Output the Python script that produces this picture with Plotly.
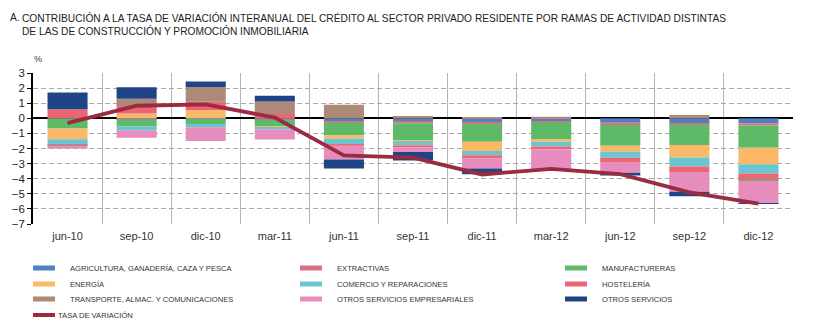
import plotly.graph_objects as go

# Quarterly periods on the category axis
periods = ["jun-10", "sep-10", "dic-10", "mar-11", "jun-11", "sep-11",
           "dic-11", "mar-12", "jun-12", "sep-12", "dic-12"]

# Contributions by branch of activity (percentage points)
agricultura = [0.00, -0.05, -0.05, -0.05, -0.22, -0.20, -0.27, -0.22, -0.29, -0.33, -0.33]
extractivas = [0.00, -0.05, 0.00, -0.05, -0.07, -0.12, -0.10, -0.05, -0.15, -0.10, -0.15]
manufactureras = [-0.67, -0.45, -0.32, -0.42, -0.85, -1.13, -1.18, -1.16, -1.38, -1.33, -1.47]
energia = [-0.71, 0.31, 0.53, -0.06, -0.22, -0.07, -0.62, -0.13, -0.40, -0.84, -1.09]
comercio = [-0.36, -0.24, -0.22, -0.15, -0.35, -0.27, -0.27, -0.31, -0.40, -0.60, -0.62]
hosteleria = [0.60, 0.51, 0.56, 0.29, -0.07, -0.15, -0.20, -0.18, -0.27, -0.36, -0.29]
transporte = [-0.08, 0.47, 0.96, 0.82, 0.89, 0.15, 0.05, 0.10, 0.00, 0.22, -0.20]
serv_empresariales = [-0.18, -0.50, -0.92, -0.68, -0.95, -0.30, -0.69, -1.30, -0.71, -1.31, -1.47]
otros_servicios = [1.11, 0.76, 0.38, 0.38, -0.60, -0.55, -0.38, 0.00, -0.18, -0.29, -0.05]

# Year-on-year rate of change (%)
tasa_variacion = [-0.32, 0.83, 0.92, 0.05, -2.45, -2.60, -3.72, -3.35, -3.70, -4.90, -5.65]

y_ticks = [3, 2, 1, 0, -1, -2, -3, -4, -5, -6, -7]

series = [
    ("AGRICULTURA, GANADERÍA, CAZA Y PESCA", agricultura, "#4f80c1"),
    ("EXTRACTIVAS", extractivas, "#d8727e"),
    ("MANUFACTURERAS", manufactureras, "#5fba68"),
    ("ENERGÍA", energia, "#fbb866"),
    ("COMERCIO Y REPARACIONES", comercio, "#69c6d1"),
    ("HOSTELERÍA", hosteleria, "#ec6572"),
    ("TRANSPORTE, ALMAC. Y COMUNICACIONES", transporte, "#ad8a77"),
    ("OTROS SERVICIOS EMPRESARIALES", serv_empresariales, "#e68dbd"),
    ("OTROS SERVICIOS", otros_servicios, "#1f4586"),
]
line_name = "TASA DE VARIACIÓN"
line_color = "#9b2b40"

FONT = "Liberation Sans, Arial, sans-serif"
W, H = 816, 333
ML, MR, MT, MB = 33, 23, 73, 109
PW, PH = W - ML - MR, H - MT - MB

fig = go.Figure()
for name, vals, color in series:
    fig.add_trace(go.Bar(x=periods, y=vals, name=name, marker_color=color,
                         marker_line_width=0, showlegend=False))
fig.add_trace(go.Scatter(x=periods, y=tasa_variacion, name=line_name, mode="lines",
                         line=dict(color=line_color, width=3.8), showlegend=False))


def px_x(p):
    return (p - ML) / PW


def px_y(p):
    return (H - MB - p) / PH


# Legend: three columns, row-major in stacking order
shapes = []
annotations = []
col_x = [33, 300, 565]
row_y = [268, 284, 299, 315]
entries = [(n, c, "bar") for n, _, c in series] + [(line_name, line_color, "line")]
for i, (name, color, kind) in enumerate(entries):
    r, c = divmod(i, 3)
    x0 = col_x[c]
    yc = row_y[r]
    half = 2.5 if kind == "bar" else 2
    shapes.append(dict(type="rect", xref="paper", yref="paper",
                       x0=px_x(x0), x1=px_x(x0 + 22),
                       y0=px_y(yc + half), y1=px_y(yc - half),
                       fillcolor=color, line_width=0, layer="above"))
    annotations.append(dict(text=name, xref="paper", yref="paper",
                            x=px_x(x0 + 35 if kind == "bar" else x0 + 23),
                            y=px_y(yc), xanchor="left", yanchor="middle",
                            showarrow=False, font=dict(family=FONT, size=7.6, color="#333333")))

# Title and unit
TITLE_SIZE = 10.2
annotations.append(dict(text="A.", xref="paper", yref="paper", x=px_x(8), y=px_y(18),
                        xanchor="left", yanchor="middle", showarrow=False,
                        font=dict(family=FONT, size=TITLE_SIZE, color="#222222")))
annotations.append(dict(text="CONTRIBUCIÓN A LA TASA DE VARIACIÓN INTERANUAL DEL CRÉDITO AL SECTOR PRIVADO RESIDENTE POR RAMAS DE ACTIVIDAD DISTINTAS",
                        xref="paper", yref="paper", x=px_x(20), y=px_y(18),
                        xanchor="left", yanchor="middle", showarrow=False,
                        font=dict(family=FONT, size=TITLE_SIZE, color="#222222")))
annotations.append(dict(text="DE LAS DE CONSTRUCCIÓN Y PROMOCIÓN INMOBILIARIA",
                        xref="paper", yref="paper", x=px_x(20), y=px_y(31),
                        xanchor="left", yanchor="middle", showarrow=False,
                        font=dict(family=FONT, size=TITLE_SIZE, color="#222222")))
annotations.append(dict(text="%", xref="paper", yref="paper", x=px_x(38), y=px_y(59),
                        xanchor="center", yanchor="middle", showarrow=False,
                        font=dict(family=FONT, size=9, color="#333333")))

fig.update_layout(
    width=W, height=H,
    margin=dict(l=ML, r=MR, t=MT, b=MB, pad=0),
    paper_bgcolor="white", plot_bgcolor="white",
    barmode="relative", bargap=0.42,
    showlegend=False,
    shapes=shapes, annotations=annotations,
    xaxis=dict(type="category", tickson="boundaries", showgrid=True,
               gridcolor="#b4b4b4", gridwidth=1, ticks="", showline=False,
               zeroline=False, tickfont=dict(family=FONT, size=11, color="#333333"),
               ticklabelstandoff=4),
    # short black ticks crossing the zero line at the category boundaries
    xaxis2=dict(overlaying="x", anchor="free", position=0.7 + 3 / PH,
                range=[-0.5, len(periods) - 0.5],
                tickvals=[k + 0.5 for k in range(len(periods))],
                ticks="outside", ticklen=6, tickwidth=1.5, tickcolor="black",
                showticklabels=False, showgrid=False, showline=False, zeroline=False),
    yaxis=dict(range=[-7, 3], tickvals=y_ticks, ticks="outside", ticklen=4,
               tickcolor="black", showline=True, linecolor="black", linewidth=1.5,
               showgrid=True, gridcolor="#a8a8a8", gridwidth=1, griddash="5px,3px",
               zeroline=True, zerolinecolor="black", zerolinewidth=1.5,
               tickfont=dict(family=FONT, size=11.5, color="#222222")),
    # grey frame line on the right edge of the plot area
    yaxis2=dict(overlaying="y", side="right", range=[-7, 3], showline=True,
                linecolor="#b4b4b4", linewidth=1, showticklabels=False,
                showgrid=False, zeroline=False, ticks=""),
)

fig.write_html("out.html")
